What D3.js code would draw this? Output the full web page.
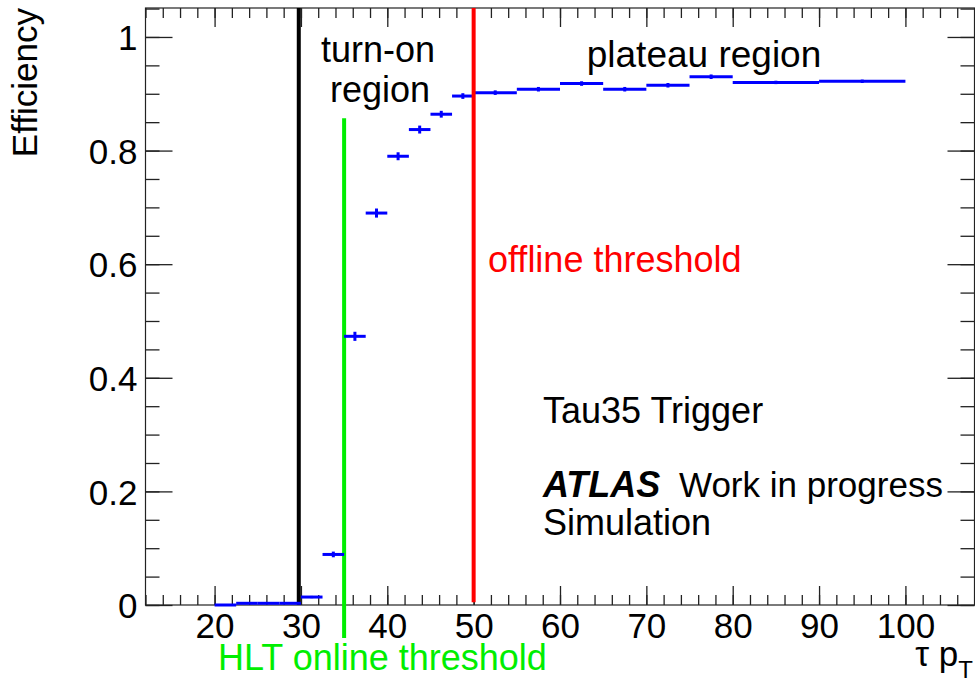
<!DOCTYPE html>
<html>
<head>
<meta charset="utf-8">
<script src="https://cdn.jsdelivr.net/npm/d3@7"></script>
<style>
  html, body { margin: 0; padding: 0; background: #fff; }
  svg { display: block; }
  text { font-family: "Liberation Sans", Arial, Helvetica, sans-serif; }
</style>
</head>
<body>
<svg id="chart" width="975" height="683"></svg>
<script>
// Tau35 trigger efficiency vs tau pT (binned, with statistical errors)
const binLow  = [20, 22.5, 25, 27.5, 30, 32.5, 35, 37.5, 40, 42.5, 45, 47.5, 50, 55, 60, 65, 70, 75, 80, 90];
const binHigh = [22.5, 25, 27.5, 30, 32.5, 35, 37.5, 40, 42.5, 45, 47.5, 50, 55, 60, 65, 70, 75, 80, 90, 100];
const efficiency = [0, 0.003, 0.003, 0.003, 0.014, 0.089, 0.473, 0.690, 0.790, 0.837, 0.864, 0.896,
                    0.902, 0.908, 0.918, 0.908, 0.915, 0.930, 0.920, 0.922];
const effError = [0.001, 0.001, 0.001, 0.001, 0.002, 0.005, 0.008, 0.008, 0.007, 0.007, 0.006, 0.005,
                  0.004, 0.004, 0.004, 0.004, 0.004, 0.004, 0.003, 0.003];

// Axis ticks
const xMajorTicks = [20, 30, 40, 50, 60, 70, 80, 90, 100];
const xMinorTicks = d3.range(12, 108.01, 2);
const yMajorTicks = [0, 0.2, 0.4, 0.6, 0.8, 1];
const yTickLabels = ["0", "0.2", "0.4", "0.6", "0.8", "1"];
const yMinorTicks = d3.range(0, 1.051, 0.05);

// Threshold markers: [x, yBottom, yTop]
const turnOnStart = [29.75, 0, 1.051];
const hltThreshold = [35, -0.058, 0.857];
const offlineThreshold = [50, 0.005, 1.051];

const svg = d3.select("#chart");
const padL = 145.5, padR = 974.5, padT = 8, padB = 605;

const x = d3.scaleLinear().domain([12, 108]).range([padL, padR]);
const y = d3.scaleLinear().domain([0, 1.051]).range([padB, padT]);

const fontSize = 35;
const noteSize = 36;
const tickColor = "#222";

// Frame
svg.append("rect")
  .attr("x", padL).attr("y", padT)
  .attr("width", padR - padL).attr("height", padB - padT)
  .attr("fill", "none").attr("stroke", tickColor).attr("stroke-width", 1.2);

// Bottom axis (ticks inward)
const gx = svg.append("g").attr("transform", `translate(0,${padB})`);
gx.call(d3.axisBottom(x).tickValues(xMinorTicks).tickFormat("").tickSizeInner(-10).tickSizeOuter(0));
gx.call(g => g.append("g").call(d3.axisBottom(x).tickValues(xMajorTicks).tickSizeInner(-19).tickSizeOuter(0).tickPadding(8)));
gx.selectAll("path.domain").remove();
gx.selectAll(".tick line").attr("stroke", tickColor).attr("stroke-width", 1.3);
gx.selectAll(".tick text").attr("font-size", fontSize).attr("fill", "#000")
  .attr("dy", null).attr("y", 33);

// Top axis ticks
const gxt = svg.append("g").attr("transform", `translate(0,${padT})`);
gxt.call(d3.axisTop(x).tickValues(xMinorTicks).tickFormat("").tickSizeInner(-10).tickSizeOuter(0));
gxt.call(g => g.append("g").call(d3.axisTop(x).tickValues(xMajorTicks).tickFormat("").tickSizeInner(-19).tickSizeOuter(0)));
gxt.selectAll("path.domain").remove();
gxt.selectAll(".tick line").attr("stroke", tickColor).attr("stroke-width", 1.3);

// Left axis
const gy = svg.append("g").attr("transform", `translate(${padL},0)`);
gy.call(d3.axisLeft(y).tickValues(yMinorTicks).tickFormat("").tickSizeInner(-14).tickSizeOuter(0));
gy.call(g => g.append("g").call(d3.axisLeft(y).tickValues(yMajorTicks)
  .tickFormat((d, i) => yTickLabels[i]).tickSizeInner(-27).tickSizeOuter(0).tickPadding(8)));
gy.selectAll("path.domain").remove();
gy.selectAll(".tick line").attr("stroke", tickColor).attr("stroke-width", 1.3);
gy.selectAll(".tick text").attr("font-size", fontSize).attr("fill", "#000").attr("dy", "0.36em");

// Right axis ticks
const gyr = svg.append("g").attr("transform", `translate(${padR},0)`);
gyr.call(d3.axisRight(y).tickValues(yMinorTicks).tickFormat("").tickSizeInner(-14).tickSizeOuter(0));
gyr.call(g => g.append("g").call(d3.axisRight(y).tickValues(yMajorTicks).tickFormat("").tickSizeInner(-27).tickSizeOuter(0)));
gyr.selectAll("path.domain").remove();
gyr.selectAll(".tick line").attr("stroke", tickColor).attr("stroke-width", 1.3);

// Axis titles
svg.append("text")
  .attr("transform", `translate(37,${padT}) rotate(-90)`)
  .attr("text-anchor", "end").attr("font-size", fontSize).text("Efficiency");

const xt = svg.append("text").attr("x", 973).attr("y", 666)
  .attr("text-anchor", "end").attr("font-size", fontSize);
xt.append("tspan").text("\u03C4 p");
xt.append("tspan").attr("font-size", 24).attr("dy", 12).text("T");

// Threshold lines
function vline(spec, color) {
  svg.append("line")
    .attr("x1", x(spec[0])).attr("x2", x(spec[0]))
    .attr("y1", y(spec[1])).attr("y2", y(spec[2]))
    .attr("stroke", color).attr("stroke-width", 4);
}
vline(turnOnStart, "#000000");
vline(hltThreshold, "#00ee00");

// Efficiency points: horizontal bin width + vertical error
const pts = svg.append("g").attr("stroke", "#0000ff").attr("stroke-width", 3);
binLow.forEach((lo, i) => {
  const hi = binHigh[i], v = efficiency[i], e = effError[i];
  pts.append("line").attr("x1", x(lo)).attr("x2", x(hi)).attr("y1", y(v)).attr("y2", y(v));
  const cx = x((lo + hi) / 2);
  pts.append("line").attr("x1", cx).attr("x2", cx)
    .attr("y1", Math.min(y(v - e), padB)).attr("y2", y(v + e));
});

vline(offlineThreshold, "#ff0000");

// Annotations
function label(tx, ty, str, color, anchor) {
  return svg.append("text").attr("x", tx).attr("y", ty)
    .attr("text-anchor", anchor || "start").attr("font-size", noteSize)
    .attr("fill", color || "#000").text(str);
}
label(378, 62, "turn-on", "#000", "middle");
label(380, 102, "region", "#000", "middle");
label(704, 67, "plateau region", "#000", "middle").attr("font-size", 37);
label(488, 272, "offline threshold", "#ff0000");
label(543, 423, "Tau35 Trigger");
label(543, 497, "ATLAS").attr("font-weight", "bold").attr("font-style", "italic");
label(679, 497, "Work in progress").attr("font-size", 35);
label(543, 535, "Simulation");
label(218, 670, "HLT online threshold", "#00ee00");
</script>
</body>
</html>
